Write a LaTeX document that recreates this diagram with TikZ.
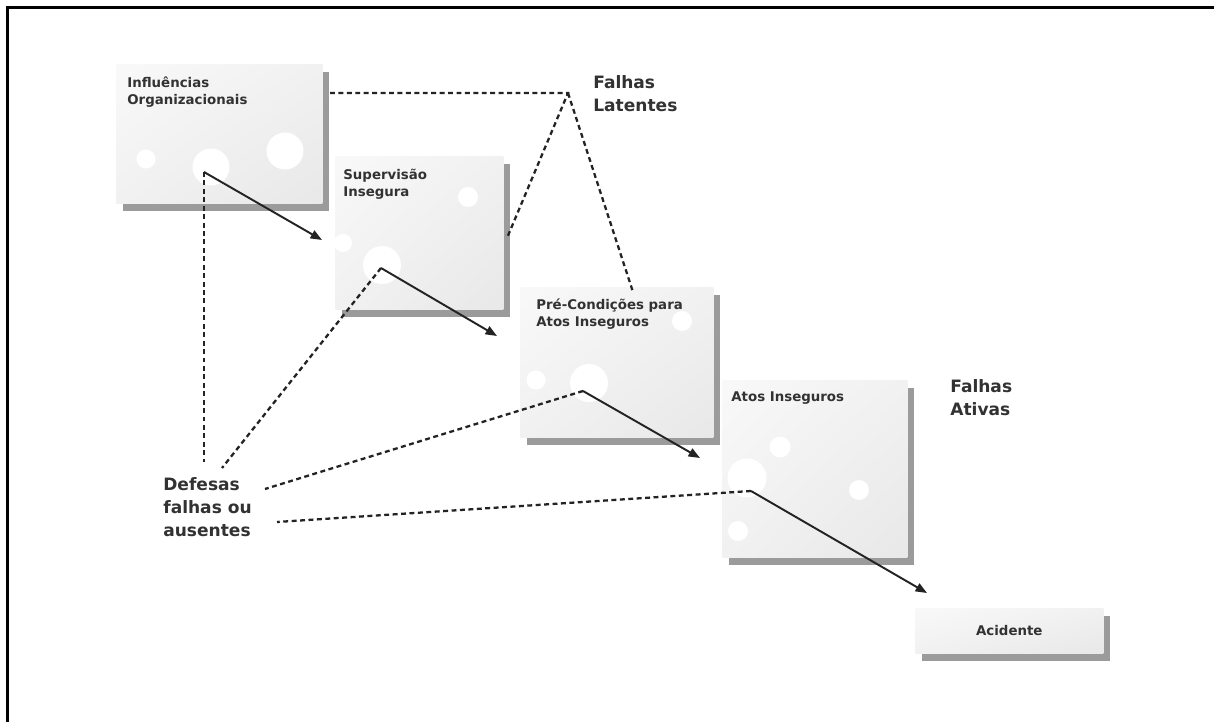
\documentclass[tikz,border=0pt]{standalone}
\usepackage{fontspec}
\setmainfont{DejaVu Sans}
\usetikzlibrary{arrows.meta, positioning, shadows, shadings}
\definecolor{inkdark}{RGB}{35,35,35}
\definecolor{textgray}{RGB}{50,50,50}
\definecolor{shadowgray}{RGB}{155,155,155}
\tikzset{
  slice/.style={rectangle, inner sep=0pt, anchor=north west,
    upper left=gray!5, upper right=gray!11, lower left=gray!11, lower right=gray!18,
    general shadow={shadow xshift=0.14cm, shadow yshift=-0.15cm, fill=shadowgray, opacity=1}},
  hole/.style={circle, fill=white, inner sep=0pt},
  slicetext/.style={anchor=base west, align=left, inner sep=0pt, text=textgray,
    font=\fontsize{7.6}{10.2}\selectfont\bfseries},
  bigtext/.style={anchor=base west, align=left, inner sep=0pt, text=textgray,
    font=\fontsize{9.7}{13.2}\selectfont\bfseries},
  arrow/.style={-{Triangle[length=6.5pt,width=5pt]}, line width=1.1pt, color=inkdark},
  dashline/.style={line width=1.3pt, color=inkdark, dash pattern=on 2.8pt off 2pt}
}

\begin{document}
\begin{tikzpicture}[x=0.02cm, y=-0.02cm]
  \fill[white] (0,0) rectangle (1214,722);
  \useasboundingbox (0,0) rectangle (1214,722);
  % frame
  \draw[line width=1.7pt] (7.5,722) -- (7.5,7.5) -- (1214,7.5);

  % slices
  \node[slice, minimum width=4.12cm, minimum height=2.78cm] (inf) at (116,64) {};
  \node[slice, minimum width=3.36cm, minimum height=3.06cm] (sup) at (335,156) {};
  \node[slice, minimum width=3.86cm, minimum height=3.0cm] (pre) at (520,287) {};
  \node[slice, minimum width=3.7cm, minimum height=3.54cm] (atos) at (722,380) {};
  \node[slice, minimum width=3.76cm, minimum height=0.9cm, text=textgray,
    font=\fontsize{7.6}{10.2}\selectfont\bfseries] (acid) at (915,608) {Acidente};

  % holes
  \node[hole, minimum size=0.38cm] (inf1) at (146,159) {};
  \node[hole, minimum size=0.74cm] (inf2) at (211,167) {};
  \node[hole, minimum size=0.74cm] (inf3) at (285,151) {};
  \node[hole, minimum size=0.4cm] (sup1) at (468,197) {};
  \node[hole, minimum size=0.36cm] (sup2) at (343,243) {};
  \node[hole, minimum size=0.76cm] (sup3) at (382,265) {};
  \node[hole, minimum size=0.4cm] (pre1) at (682,321) {};
  \node[hole, minimum size=0.38cm] (pre2) at (536,380) {};
  \node[hole, minimum size=0.76cm] (pre3) at (589,383) {};
  \node[hole, minimum size=0.42cm] (atos1) at (780,447) {};
  \node[hole, minimum size=0.78cm] (atos2) at (747,478) {};
  \node[hole, minimum size=0.4cm] (atos3) at (859,490) {};
  \node[hole, minimum size=0.4cm] (atos4) at (738,531) {};

  % labels (base = last line)
  \node[slicetext] (infT) at (127,105) {Influências\\Organizacionais};
  \node[slicetext] (supT) at (343,197) {Supervisão\\Insegura};
  \node[slicetext] (preT) at (536,327) {Pré-Condições para\\Atos Inseguros};
  \node[slicetext] (atosT) at (731,402) {Atos Inseguros};
  \node[bigtext] (latT) at (593,112) {Falhas\\Latentes};
  \node[bigtext] (ativT) at (950,416) {Falhas\\Ativas};
  \node[bigtext] (defT) at (163,537) {Defesas\\falhas ou\\ausentes};

  % connector points
  \coordinate (infP) at (204,172);
  \coordinate (supP) at (381,268);
  \coordinate (preP) at (583,391);
  \coordinate (atosP) at (751,491);
  \coordinate (supIn) at (322,240);
  \coordinate (preIn) at (497,336);
  \coordinate (atosIn) at (700,458);
  \coordinate (acidIn) at (927,593);
  \coordinate (lat) at (568,93);
  \coordinate (latA) at (330,93);
  \coordinate (latB) at (507,238);
  \coordinate (latC) at (633,292);
  \coordinate (def1) at (204,462);
  \coordinate (def2) at (222,468);
  \coordinate (def3) at (265,489);
  \coordinate (def4) at (277,522);

  % latent failures
  \draw[dashline] (latA) -- (lat) -- (latB);
  \draw[dashline] (lat) -- (latC);

  % defences
  \draw[dashline] (infP) -- (def1);
  \draw[dashline] (supP) -- (def2);
  \draw[dashline] (preP) -- (def3);
  \draw[dashline] (atosP) -- (def4);

  % trajectory
  \draw[arrow] (infP) -- (supIn);
  \draw[arrow] (supP) -- (preIn);
  \draw[arrow] (preP) -- (atosIn);
  \draw[arrow] (atosP) -- (acidIn);
\end{tikzpicture}
\end{document}
